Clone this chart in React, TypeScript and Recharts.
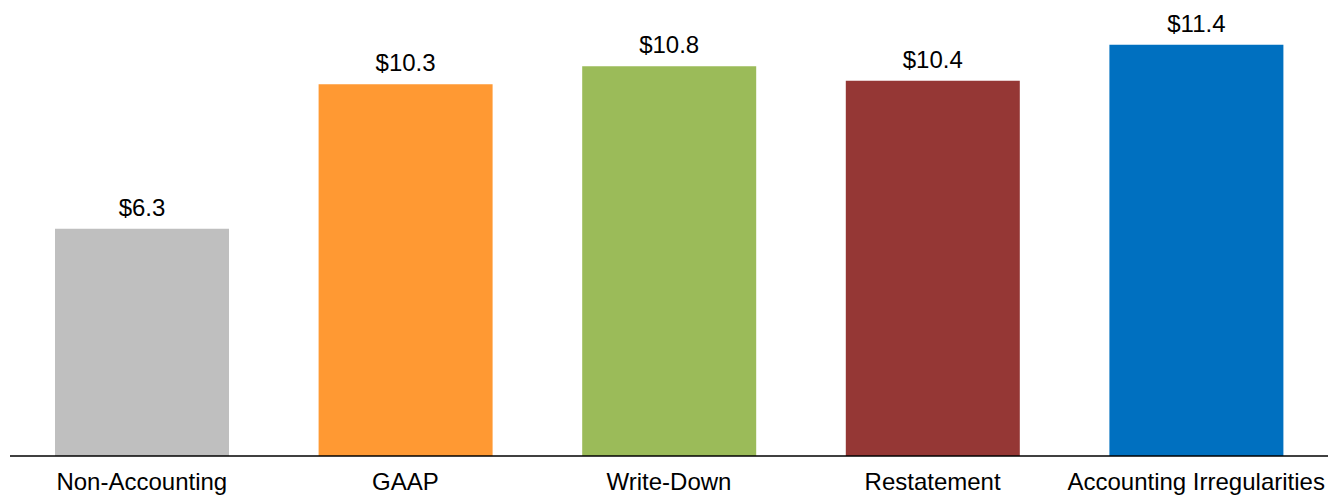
import React from "react";
import { BarChart, Bar, XAxis, YAxis, Cell, LabelList } from "recharts";

const categories = ["Non-Accounting", "GAAP", "Write-Down", "Restatement", "Accounting Irregularities"];
const values = [6.3, 10.3, 10.8, 10.4, 11.4];
const colors = ["#BFBFBF", "#FF9933", "#9BBB59", "#953735", "#0070C0"];

const data = categories.map((name, i) => ({ name, value: values[i] }));

const FONT = "'Liberation Sans', Arial, sans-serif";

export default function App() {
  return (
    <div style={{ position: "absolute", left: 0, top: 0, background: "#fff" }}>
      <BarChart
        width={1333}
        height={497}
        data={data}
        margin={{ top: 23, right: 5, left: 10, bottom: 0 }}
      >
        <XAxis
          dataKey="name"
          height={41}
          tickLine={false}
          tickSize={0}
          tickMargin={17}
          axisLine={{ stroke: "#000", strokeWidth: 1.5 }}
          tick={{ fill: "#000", fontSize: 24, fontFamily: FONT }}
          interval={0}
        />
        <YAxis hide domain={[0, 12]} />
        <Bar dataKey="value" barSize={174} isAnimationActive={false}>
          {data.map((d, i) => (
            <Cell key={d.name} fill={colors[i]} />
          ))}
          <LabelList
            dataKey="value"
            position="top"
            offset={13}
            formatter={(v: number) => `$${v.toFixed(1)}`}
            style={{ fill: "#000", fontSize: 24, fontFamily: FONT }}
          />
        </Bar>
      </BarChart>
    </div>
  );
}
